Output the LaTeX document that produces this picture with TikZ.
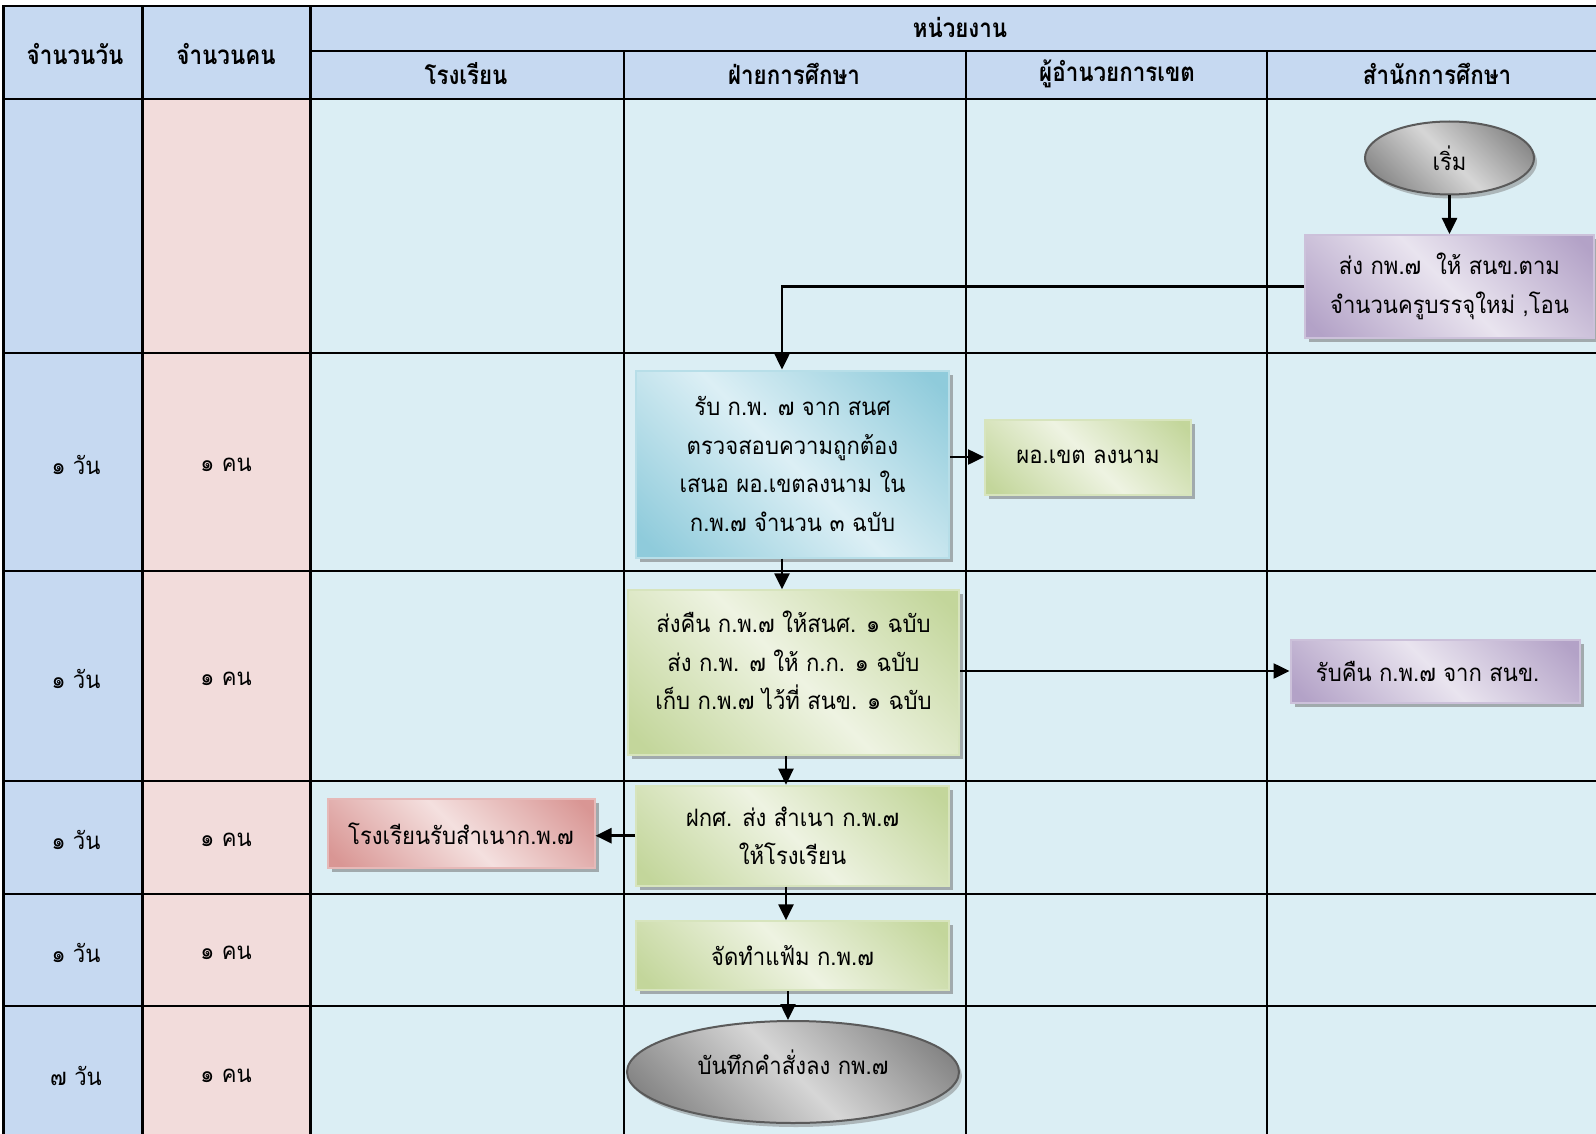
\documentclass[tikz,border=0pt]{standalone}
\usepackage{fontspec}
\setmainfont[Script=Thai,FakeStretch=0.92]{Loma}
\newfontfamily\hdrfont[Script=Thai,FakeStretch=0.86]{Loma}
\usetikzlibrary{shadows,arrows.meta,shapes.geometric}
\definecolor{hdr}{HTML}{C6D9F1}
\definecolor{pinkc}{HTML}{F2DCDB}
\definecolor{cyanc}{HTML}{DBEEF4}
\definecolor{blt}{HTML}{DCEFF5}
\definecolor{bdk}{HTML}{8FCBDB}
\definecolor{bbd}{HTML}{B7DEE8}
\definecolor{glt}{HTML}{EEF3E2}
\definecolor{gdk}{HTML}{C3D69B}
\definecolor{gbd}{HTML}{D7E4BD}
\definecolor{plt}{HTML}{E9E4EF}
\definecolor{pdk}{HTML}{B3A2C7}
\definecolor{pbd}{HTML}{CCC1DA}
\definecolor{rlt}{HTML}{F4E0DF}
\definecolor{rdk}{HTML}{D99694}
\definecolor{rbd}{HTML}{E6B9B8}
\definecolor{ylt}{HTML}{D6D6D6}
\definecolor{ydk}{HTML}{858585}
\definecolor{ybd}{HTML}{5A5A5A}
\pgfdeclarehorizontalshading{blueS}{100bp}{color(0bp)=(bdk); color(18bp)=(bdk); color(50bp)=(blt); color(82bp)=(bdk); color(100bp)=(bdk)}
\pgfdeclarehorizontalshading{greenS}{100bp}{color(0bp)=(gdk); color(18bp)=(gdk); color(50bp)=(glt); color(82bp)=(gdk); color(100bp)=(gdk)}
\pgfdeclarehorizontalshading{purpleS}{100bp}{color(0bp)=(pdk); color(18bp)=(pdk); color(50bp)=(plt); color(82bp)=(pdk); color(100bp)=(pdk)}
\pgfdeclarehorizontalshading{redS}{100bp}{color(0bp)=(rdk); color(18bp)=(rdk); color(50bp)=(rlt); color(82bp)=(rdk); color(100bp)=(rdk)}
\pgfdeclarehorizontalshading{grayS}{100bp}{color(0bp)=(ydk); color(22bp)=(ydk); color(50bp)=(ylt); color(78bp)=(ydk); color(100bp)=(ydk)}
\newcommand{\bodyfs}{\fontsize{24}{38.7}\selectfont}
\newcommand{\hdrfs}{\hdrfont\fontsize{26}{28}\selectfont\bfseries}
\tikzset{
  boxbase/.style={rectangle, line width=2pt, align=center, inner sep=0pt, font=\bodyfs,
    shading angle=45,
    drop shadow={shadow xshift=4pt, shadow yshift=-4pt, fill=black!55, opacity=0.55}},
  bluebox/.style={boxbase, draw=bbd, shading=blueS},
  greenbox/.style={boxbase, draw=gbd, shading=greenS},
  purplebox/.style={boxbase, draw=pbd, shading=purpleS},
  redbox/.style={boxbase, draw=rbd, shading=redS},
  termnode/.style={ellipse, line width=2pt, draw=ybd, shading=grayS, shading angle=45,
    align=center, inner sep=0pt, font=\bodyfs,
    drop shadow={shadow xshift=3pt, shadow yshift=-4pt, fill=black!55, opacity=0.45}},
  grid/.style={line width=2.2pt, black},
  hdrtext/.style={font=\hdrfs, inner sep=0pt},
  celltext/.style={font=\bodyfs, inner sep=0pt},
  arr/.style={line width=2.5pt, -{Triangle[length=16pt,width=15pt]}},
}
\begin{document}
\begin{tikzpicture}[x=1pt,y=-1pt]
\useasboundingbox (0,0) rectangle (1596,1134);
\clip (0,0) rectangle (1596,1134);
% cell fills
\fill[hdr] (3.5,6) rectangle (1612,99);
\fill[hdr] (3.5,99) rectangle (142.5,1140);
\fill[pinkc] (142.5,99) rectangle (310.5,1140);
\fill[cyanc] (310.5,99) rectangle (1612,1140);
% grid
\draw[grid] (3.5,1140) -- (3.5,6) -- (1612,6);
\draw[grid] (310.5,51) -- (1612,51);
\foreach \yy in {99,353,571,781,894,1006} \draw[grid] (3.5,\yy) -- (1612,\yy);
\foreach \xx in {142.5,310.5} \draw[grid] (\xx,6) -- (\xx,1140);
\foreach \xx in {624,966,1267} \draw[grid] (\xx,51) -- (\xx,1140);
% headers
\node[hdrtext] (h1) at (75,54) {จำนวนวัน};
\node[hdrtext] (h2) at (226,54) {จำนวนคน};
\node[hdrtext] (h3) at (960,27) {หน่วยงาน};
\node[hdrtext] (h4) at (466,74) {โรงเรียน};
\node[hdrtext] (h5) at (794,74) {ฝ่ายการศึกษา};
\node[hdrtext] (h6) at (1117,74) {ผู้อำนวยการเขต};
\node[hdrtext] (h7) at (1437,74) {สำนักการศึกษา};
% left columns
\node[celltext] (d2) at (76,465) {๑ วัน};
\node[celltext] (n2) at (226,465) {๑ คน};
\node[celltext] (d3) at (76,679) {๑ วัน};
\node[celltext] (n3) at (226,679) {๑ คน};
\node[celltext] (d4) at (76,840) {๑ วัน};
\node[celltext] (n4) at (226,840) {๑ คน};
\node[celltext] (d5) at (76,953) {๑ วัน};
\node[celltext] (n5) at (226,953) {๑ คน};
\node[celltext] (d6) at (76,1076) {๗ วัน};
\node[celltext] (n6) at (226,1076) {๑ คน};
% flow nodes
\node[termnode, minimum width=169pt, minimum height=73pt] (start) at (1449.5,158) {เริ่ม};
\node[purplebox, minimum width=289pt, minimum height=103pt] (p1) at (1449.5,286.5) {ส่ง กพ.๗~ ให้ สนข.ตาม\\จำนวนครูบรรจุใหม่ ,โอน};
\node[bluebox, minimum width=312.5pt, minimum height=187pt] (blue) at (792.5,464) {รับ ก.พ. ๗ จาก สนศ\\ตรวจสอบความถูกต้อง\\เสนอ ผอ.เขตลงนาม ใน\\ก.พ.๗ จำนวน ๓ ฉบับ};
\node[greenbox, minimum width=206pt, minimum height=75pt] (pa) at (1088,457) {ผอ.เขต ลงนาม};
\node[greenbox, minimum width=331pt, minimum height=165pt] (g2) at (793.5,672.8) {ส่งคืน ก.พ.๗ ให้สนศ. ๑ ฉบับ\\ส่ง ก.พ. ๗ ให้ ก.ก. ๑ ฉบับ\\เก็บ ก.พ.๗ ไว้ที่ สนข. ๑ ฉบับ\\[-14pt]\mbox{}};
\node[purplebox, minimum width=289pt, minimum height=63pt] (p2) at (1435,671) {รับคืน ก.พ.๗ จาก สนข.~~};
\node[greenbox, minimum width=312.5pt, minimum height=100pt] (g3) at (792.5,835.7) {ฝกศ. ส่ง สำเนา ก.พ.๗\\ให้โรงเรียน};
\node[redbox, minimum width=267pt, minimum height=69pt] (red) at (461,833.6) {โรงเรียนรับสำเนาก.พ.๗};
\node[greenbox, minimum width=312.5pt, minimum height=69pt] (g4) at (792.5,955.8) {จัดทำแฟ้ม ก.พ.๗};
\node[termnode, minimum width=332pt, minimum height=102pt] (fin) at (793,1072) {\raisebox{19pt}{บันทึกคำสั่งลง กพ.๗}};
% connectors
\coordinate (k1) at (782,286.5);
\coordinate (k2) at (786,0);
\coordinate (k3) at (788,0);
\draw[arr] (start) -- (p1);
\draw[arr] (p1.west) -- (k1) -- (k1 |- blue.north);
\draw[arr] (blue.east |- pa.west) -- (pa.west);
\draw[arr] (blue.south -| k1) -- (g2.north -| k1);
\draw[arr] (g2.east |- p2.west) -- (p2.west);
\draw[arr] (g2.south -| k2) -- (g3.north -| k2);
\draw[arr] (g3.west) -- (red.east |- g3.west);
\draw[arr] (g3.south -| k2) -- (g4.north -| k2);
\draw[arr] (g4.south -| k3) -- (fin.north -| k3);
\end{tikzpicture}
\end{document}
